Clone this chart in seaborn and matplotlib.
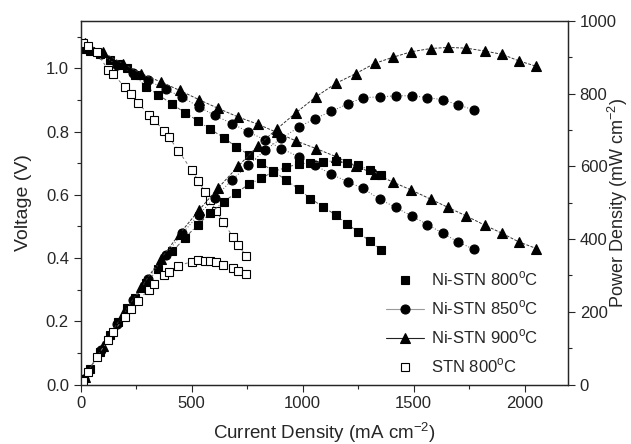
import matplotlib
matplotlib.use("Agg")
import matplotlib.pyplot as plt
from matplotlib.lines import Line2D
import seaborn as sns

# Ni-STN 800 C (filled squares)
i_800 = [5, 40, 86, 131, 168, 210, 243, 296, 348, 413, 468, 528, 584, 644, 701,
         758, 814, 866, 926, 983, 1035, 1092, 1149, 1200, 1249, 1302, 1354]
v_800 = [1.06, 1.055, 1.046, 1.027, 1.015, 1.0, 0.978, 0.94, 0.917, 0.886, 0.860,
         0.834, 0.807, 0.781, 0.751, 0.727, 0.699, 0.676, 0.646, 0.618, 0.588,
         0.562, 0.536, 0.508, 0.483, 0.453, 0.425]
p_800 = [5, 42, 90, 135, 171, 210, 238, 278, 319, 366, 402, 440, 471, 503, 527,
         551, 567, 585, 597, 607, 609, 613, 615, 609, 603, 590, 576]

# Ni-STN 850 C (filled circles)
i_850 = [15, 90, 165, 236, 303, 383, 458, 532, 604, 682, 754, 832, 904, 983,
         1054, 1129, 1204, 1272, 1347, 1419, 1493, 1562, 1632, 1700, 1772]
v_850 = [1.075, 1.045, 1.01, 0.985, 0.962, 0.933, 0.909, 0.878, 0.851, 0.825,
         0.799, 0.773, 0.746, 0.720, 0.694, 0.665, 0.641, 0.620, 0.586, 0.560,
         0.532, 0.506, 0.478, 0.451, 0.427]
p_850 = [16, 94, 167, 232, 291, 357, 416, 467, 514, 563, 603, 645, 677, 708, 731,
         751, 772, 789, 791, 794, 794, 789, 783, 769, 755]

# Ni-STN 900 C (filled triangles)
i_900 = [20, 100, 190, 273, 360, 446, 532, 620, 709, 799, 884, 971, 1061, 1152,
         1239, 1324, 1407, 1489, 1577, 1655, 1737, 1820, 1899, 1974, 2053]
v_900 = [1.08, 1.05, 1.015, 0.983, 0.957, 0.930, 0.901, 0.873, 0.846, 0.823,
         0.797, 0.770, 0.746, 0.720, 0.690, 0.667, 0.640, 0.615, 0.586, 0.560,
         0.533, 0.504, 0.478, 0.451, 0.430]
p_900 = [22, 105, 193, 268, 345, 415, 479, 541, 600, 657, 703, 748, 792, 829,
         855, 883, 900, 915, 924, 927, 925, 917, 908, 890, 875]

# STN 800 C (open squares)
i_stn = [10, 33, 71, 123, 146, 198, 225, 260, 306, 329, 375, 396, 440, 499, 530,
         559, 581, 610, 640, 686, 710, 746]
v_stn = [1.08, 1.07, 1.05, 0.996, 0.983, 0.94, 0.918, 0.89, 0.852, 0.838, 0.802,
         0.783, 0.74, 0.678, 0.645, 0.609, 0.583, 0.55, 0.515, 0.467, 0.44, 0.406]
p_stn = [11, 35, 75, 122, 144, 186, 207, 231, 261, 277, 301, 310, 326, 338, 342,
         340, 339, 336, 330, 320, 312, 303]

labels = ["Ni-STN 800$^{\\mathregular{o}}$C", "Ni-STN 850$^{\\mathregular{o}}$C",
          "Ni-STN 900$^{\\mathregular{o}}$C", "STN 800$^{\\mathregular{o}}$C"]

sns.set_style("ticks")
plt.rcParams["font.family"] = ["Liberation Sans", "DejaVu Sans"]
plt.rcParams["mathtext.fontset"] = "custom"
plt.rcParams["mathtext.rm"] = "Liberation Sans"

fig = plt.figure(figsize=(6.31, 4.44), dpi=100)
ax = fig.add_axes([0.128, 0.134, 0.772, 0.819])
ax2 = ax.twinx()

styles = [
    dict(marker="s", ms=5.5, mfc="black", mec="black", ls=(0, (4, 2, 1, 2)), color="#555555"),
    dict(marker="o", ms=6.5, mfc="black", mec="black", ls=(0, (1, 2)), color="#555555"),
    dict(marker="^", ms=6.5, mfc="black", mec="black", ls=(0, (3, 1.5)), color="#333333"),
    dict(marker="s", ms=6, mfc="white", mec="black", ls=(0, (3, 3)), color="#777777"),
]
series = [(i_800, v_800, p_800), (i_850, v_850, p_850),
          (i_900, v_900, p_900), (i_stn, v_stn, p_stn)]

for (cur, volt, powr), st in zip(series, styles):
    kw = dict(marker=st["marker"], markersize=st["ms"], markerfacecolor=st["mfc"],
              markeredgecolor=st["mec"], markeredgewidth=0.8, linestyle=st["ls"],
              color=st["color"], linewidth=0.7, sort=False, legend=False)
    sns.lineplot(x=cur, y=volt, ax=ax, **kw)
    sns.lineplot(x=cur, y=powr, ax=ax2, **kw)

ax.set_xlim(0, 2195)
ax.set_ylim(0, 1.15)
ax2.set_ylim(0, 1000)
ax.set_xticks([0, 500, 1000, 1500, 2000])
ax.set_xticks([250, 750, 1250, 1750], minor=True)
ax.set_yticks([0.0, 0.2, 0.4, 0.6, 0.8, 1.0])
ax.set_yticklabels(["0.0", "0.2", "0.4", "0.6", "0.8", "1.0"])
ax.set_yticks([0.1, 0.3, 0.5, 0.7, 0.9, 1.1], minor=True)
ax2.set_yticks([0, 200, 400, 600, 800, 1000])
ax2.set_yticks([100, 300, 500, 700, 900], minor=True)

for a in (ax, ax2):
    a.tick_params(which="major", length=5, width=0.8, labelsize=12, direction="out")
    a.tick_params(which="minor", length=3, width=0.8, direction="out")
    for s in a.spines.values():
        s.set_linewidth(0.9)
        s.set_visible(True)

ax.set_xlabel("Current Density (mA cm$^{\\mathregular{-2}}$)", fontsize=13.5)
ax.set_ylabel("Voltage (V)", fontsize=14)
ax2.set_ylabel("Power Density (mW cm$^{\\mathregular{-2}}$)", fontsize=13)
ax.xaxis.set_label_coords(0.5, -0.097)
ax.yaxis.set_label_coords(-0.10, 0.5)
ax2.yaxis.set_label_coords(1.077, 0.5)

handles = []
for lab, st in zip(labels, styles):
    show_line = lab.startswith("Ni-STN 85") or lab.startswith("Ni-STN 90")
    handles.append(Line2D([], [], marker=st["marker"], markersize=st["ms"],
                          markerfacecolor=st["mfc"], markeredgecolor=st["mec"],
                          markeredgewidth=0.8,
                          linestyle="-" if show_line else "none",
                          color="#999999" if lab.startswith("Ni-STN 85") else "#222222",
                          linewidth=0.8, label=lab))
ax2.legend(handles=handles, loc="lower left", bbox_to_anchor=(0.596, -0.017),
           frameon=False, fontsize=12, handlelength=2.3, labelspacing=0.62,
           handletextpad=0.4)

fig.savefig("out.png", dpi=100)
